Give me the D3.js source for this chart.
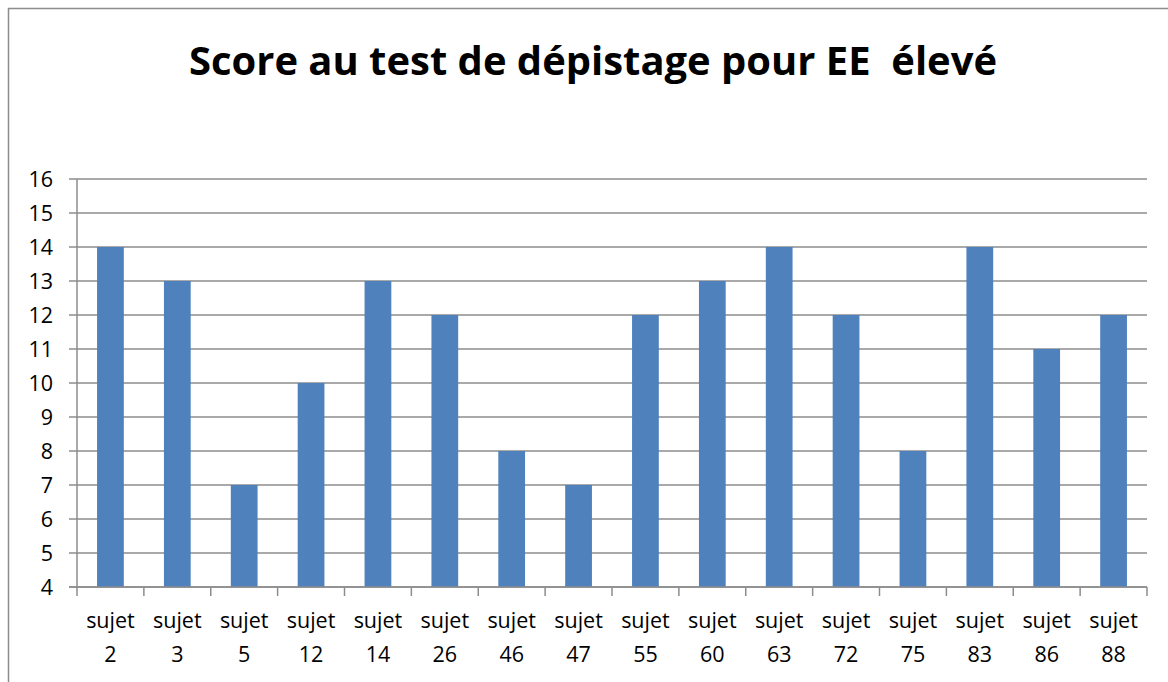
<!DOCTYPE html>
<html><head><meta charset="utf-8">
<script src="https://cdn.jsdelivr.net/npm/d3@7"></script>
<style>body{margin:0;background:#fff}svg{display:block}</style>
</head><body>
<svg id="c" width="1168" height="682"></svg>
<script>
const categories = ["sujet 2","sujet 3","sujet 5","sujet 12","sujet 14","sujet 26","sujet 46","sujet 47","sujet 55","sujet 60","sujet 63","sujet 72","sujet 75","sujet 83","sujet 86","sujet 88"];
const scores = [14,13,7,10,13,12,8,7,12,13,14,12,8,14,11,12];
const yTicks = [4,5,6,7,8,9,10,11,12,13,14,15,16];
const title = "Score au test de dépistage pour EE  élevé";

const svg = d3.select("#c");
const font = "'Open Sans', 'Noto Sans', sans-serif";
const W = 1168, H = 682;
const m = {left: 77, right: 1147, top: 179, bottom: 587};

// outer frame
svg.append("path").attr("d", `M8.5,${H+5} V8.5 H${W+5}`)
  .attr("fill","none").attr("stroke","#8c8c8c").attr("stroke-width",1.5);

const x = d3.scaleBand().domain(categories).range([m.left, m.right]).paddingInner(0.6).paddingOuter(0.3);
const xb = d3.scaleBand().domain(categories).range([m.left, m.right]);
const y = d3.scaleLinear().domain([4,16]).range([m.bottom, m.top]);

// gridlines
svg.append("g").selectAll("line").data(yTicks).join("line")
  .attr("x1", m.left - 8).attr("x2", m.right)
  .attr("y1", d => y(d)).attr("y2", d => y(d))
  .attr("stroke", "#8c8c8c").attr("stroke-width", 1.5);

// bars
svg.append("g").selectAll("rect").data(scores).join("rect")
  .attr("x", (d,i) => x(categories[i]))
  .attr("width", x.bandwidth())
  .attr("y", d => y(d))
  .attr("height", d => y(4) - y(d))
  .attr("fill", "#4f81bd");

// y axis line
svg.append("line").attr("x1", m.left).attr("x2", m.left).attr("y1", m.top).attr("y2", m.bottom)
  .attr("stroke","#8c8c8c").attr("stroke-width",1.5);

// x axis line and ticks
svg.append("line").attr("x1", m.left - 8).attr("x2", m.right).attr("y1", m.bottom).attr("y2", m.bottom)
  .attr("stroke","#8c8c8c").attr("stroke-width",1.5);
const xTickPos = categories.map(c => xb(c)).concat([m.right]);
svg.append("g").selectAll("line").data(xTickPos).join("line")
  .attr("x1", d => d).attr("x2", d => d).attr("y1", m.bottom).attr("y2", m.bottom + 9)
  .attr("stroke","#8c8c8c").attr("stroke-width",1.5);

// y labels
svg.append("g").selectAll("text").data(yTicks).join("text")
  .attr("x", 53).attr("y", d => y(d)).attr("dy", "0.36em")
  .attr("text-anchor","end").attr("font-family", font).attr("font-size", 21.5)
  .attr("fill","#000").text(d => d);

// x labels
const xl = svg.append("g").selectAll("text").data(categories).join("text")
  .attr("text-anchor","middle").attr("font-family", font).attr("font-size", 21.5).attr("fill","#000");
xl.each(function(d){
  const parts = d.split(" ");
  const cx = xb(d) + xb.bandwidth()/2;
  d3.select(this).append("tspan").attr("x", cx).attr("y", 628).text(parts[0]);
  d3.select(this).append("tspan").attr("x", cx).attr("y", 662).text(parts[1]);
});

// title
svg.append("text").attr("x", 593).attr("y", 75).attr("text-anchor","middle")
  .style("white-space", "pre")
  .attr("font-family", font).attr("font-weight", "bold").attr("font-size", 40)
  .attr("textLength", 808).attr("lengthAdjust","spacingAndGlyphs")
  .attr("fill","#000").text(title);
</script>
</body></html>
